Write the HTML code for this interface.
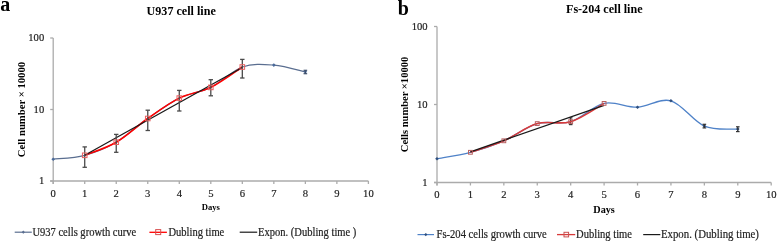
<!DOCTYPE html><html><head><meta charset="utf-8"><style>html,body{margin:0;padding:0;background:#fff;}svg{display:block;filter:blur(0.3px);}text{font-family:"Liberation Serif",serif;}.r{stroke:#222;stroke-width:0.18px;}</style></head><body>
<svg width="777" height="241" viewBox="0 0 777 241">
<rect width="777" height="241" fill="#fff"/>
<text x="0.3" y="10.8" font-size="20" font-weight="bold" fill="#000">a</text>
<text x="397.8" y="14.6" font-size="20" font-weight="bold" fill="#000">b</text>
<text x="181.2" y="15.2" font-size="12.1" font-weight="bold" text-anchor="middle" fill="#000">U937 cell line</text>
<text x="604.3" y="13.1" font-size="12.1" font-weight="bold" text-anchor="middle" fill="#000">Fs-204 cell line</text>
<line x1="53.20" y1="38.00" x2="53.20" y2="184.00" stroke="#ababab" stroke-width="1.3"/>
<line x1="50.20" y1="181.00" x2="53.20" y2="181.00" stroke="#ababab" stroke-width="1.3"/>
<text x="44.20" y="184.30" font-size="10.6" text-anchor="end" fill="#222" class="r">1</text>
<line x1="50.20" y1="109.50" x2="53.20" y2="109.50" stroke="#ababab" stroke-width="1.3"/>
<text x="44.20" y="112.80" font-size="10.6" text-anchor="end" fill="#222" class="r">10</text>
<line x1="50.20" y1="38.00" x2="53.20" y2="38.00" stroke="#ababab" stroke-width="1.3"/>
<text x="44.20" y="41.30" font-size="10.6" text-anchor="end" fill="#222" class="r">100</text>
<line x1="50.20" y1="181.00" x2="368.40" y2="181.00" stroke="#ababab" stroke-width="1.3"/>
<line x1="53.20" y1="181.00" x2="53.20" y2="184.00" stroke="#ababab" stroke-width="1.3"/>
<text x="53.20" y="196.50" font-size="10.6" text-anchor="middle" fill="#222" class="r">0</text>
<line x1="84.72" y1="181.00" x2="84.72" y2="184.00" stroke="#ababab" stroke-width="1.3"/>
<text x="84.72" y="196.50" font-size="10.6" text-anchor="middle" fill="#222" class="r">1</text>
<line x1="116.24" y1="181.00" x2="116.24" y2="184.00" stroke="#ababab" stroke-width="1.3"/>
<text x="116.24" y="196.50" font-size="10.6" text-anchor="middle" fill="#222" class="r">2</text>
<line x1="147.76" y1="181.00" x2="147.76" y2="184.00" stroke="#ababab" stroke-width="1.3"/>
<text x="147.76" y="196.50" font-size="10.6" text-anchor="middle" fill="#222" class="r">3</text>
<line x1="179.28" y1="181.00" x2="179.28" y2="184.00" stroke="#ababab" stroke-width="1.3"/>
<text x="179.28" y="196.50" font-size="10.6" text-anchor="middle" fill="#222" class="r">4</text>
<line x1="210.80" y1="181.00" x2="210.80" y2="184.00" stroke="#ababab" stroke-width="1.3"/>
<text x="210.80" y="196.50" font-size="10.6" text-anchor="middle" fill="#222" class="r">5</text>
<line x1="242.32" y1="181.00" x2="242.32" y2="184.00" stroke="#ababab" stroke-width="1.3"/>
<text x="242.32" y="196.50" font-size="10.6" text-anchor="middle" fill="#222" class="r">6</text>
<line x1="273.84" y1="181.00" x2="273.84" y2="184.00" stroke="#ababab" stroke-width="1.3"/>
<text x="273.84" y="196.50" font-size="10.6" text-anchor="middle" fill="#222" class="r">7</text>
<line x1="305.36" y1="181.00" x2="305.36" y2="184.00" stroke="#ababab" stroke-width="1.3"/>
<text x="305.36" y="196.50" font-size="10.6" text-anchor="middle" fill="#222" class="r">8</text>
<line x1="336.88" y1="181.00" x2="336.88" y2="184.00" stroke="#ababab" stroke-width="1.3"/>
<text x="336.88" y="196.50" font-size="10.6" text-anchor="middle" fill="#222" class="r">9</text>
<line x1="368.40" y1="181.00" x2="368.40" y2="184.00" stroke="#ababab" stroke-width="1.3"/>
<text x="368.40" y="196.50" font-size="10.6" text-anchor="middle" fill="#222" class="r">10</text>
<text x="210.80" y="209.90" font-size="8.6" font-weight="bold" text-anchor="middle" fill="#000">Days</text>
<text transform="translate(24.60,109.50) rotate(-90)" font-size="10.7" font-weight="bold" text-anchor="middle" fill="#000">Cell number × 10000</text>
<line x1="437.00" y1="26.50" x2="437.00" y2="185.50" stroke="#ababab" stroke-width="1.3"/>
<line x1="434.00" y1="182.50" x2="437.00" y2="182.50" stroke="#ababab" stroke-width="1.3"/>
<text x="427.60" y="185.80" font-size="10.6" text-anchor="end" fill="#222" class="r">1</text>
<line x1="434.00" y1="104.50" x2="437.00" y2="104.50" stroke="#ababab" stroke-width="1.3"/>
<text x="427.60" y="107.80" font-size="10.6" text-anchor="end" fill="#222" class="r">10</text>
<line x1="434.00" y1="26.50" x2="437.00" y2="26.50" stroke="#ababab" stroke-width="1.3"/>
<text x="427.60" y="29.80" font-size="10.6" text-anchor="end" fill="#222" class="r">100</text>
<line x1="434.00" y1="182.50" x2="771.20" y2="182.50" stroke="#ababab" stroke-width="1.3"/>
<line x1="437.00" y1="182.50" x2="437.00" y2="185.50" stroke="#ababab" stroke-width="1.3"/>
<text x="437.00" y="198.20" font-size="10.6" text-anchor="middle" fill="#222" class="r">0</text>
<line x1="470.42" y1="182.50" x2="470.42" y2="185.50" stroke="#ababab" stroke-width="1.3"/>
<text x="470.42" y="198.20" font-size="10.6" text-anchor="middle" fill="#222" class="r">1</text>
<line x1="503.84" y1="182.50" x2="503.84" y2="185.50" stroke="#ababab" stroke-width="1.3"/>
<text x="503.84" y="198.20" font-size="10.6" text-anchor="middle" fill="#222" class="r">2</text>
<line x1="537.26" y1="182.50" x2="537.26" y2="185.50" stroke="#ababab" stroke-width="1.3"/>
<text x="537.26" y="198.20" font-size="10.6" text-anchor="middle" fill="#222" class="r">3</text>
<line x1="570.68" y1="182.50" x2="570.68" y2="185.50" stroke="#ababab" stroke-width="1.3"/>
<text x="570.68" y="198.20" font-size="10.6" text-anchor="middle" fill="#222" class="r">4</text>
<line x1="604.10" y1="182.50" x2="604.10" y2="185.50" stroke="#ababab" stroke-width="1.3"/>
<text x="604.10" y="198.20" font-size="10.6" text-anchor="middle" fill="#222" class="r">5</text>
<line x1="637.52" y1="182.50" x2="637.52" y2="185.50" stroke="#ababab" stroke-width="1.3"/>
<text x="637.52" y="198.20" font-size="10.6" text-anchor="middle" fill="#222" class="r">6</text>
<line x1="670.94" y1="182.50" x2="670.94" y2="185.50" stroke="#ababab" stroke-width="1.3"/>
<text x="670.94" y="198.20" font-size="10.6" text-anchor="middle" fill="#222" class="r">7</text>
<line x1="704.36" y1="182.50" x2="704.36" y2="185.50" stroke="#ababab" stroke-width="1.3"/>
<text x="704.36" y="198.20" font-size="10.6" text-anchor="middle" fill="#222" class="r">8</text>
<line x1="737.78" y1="182.50" x2="737.78" y2="185.50" stroke="#ababab" stroke-width="1.3"/>
<text x="737.78" y="198.20" font-size="10.6" text-anchor="middle" fill="#222" class="r">9</text>
<line x1="771.20" y1="182.50" x2="771.20" y2="185.50" stroke="#ababab" stroke-width="1.3"/>
<text x="771.20" y="198.20" font-size="10.6" text-anchor="middle" fill="#222" class="r">10</text>
<text x="604.10" y="212.70" font-size="10.2" font-weight="bold" text-anchor="middle" fill="#000">Days</text>
<text transform="translate(407.90,104.50) rotate(-90)" font-size="10.55" font-weight="bold" text-anchor="middle" fill="#000">Cells number ×10000</text>
<path d="M53.20,159.20 C58.45,158.55 74.21,158.13 84.72,155.30 C95.23,152.47 105.73,148.33 116.24,142.20 C126.75,136.07 137.25,125.85 147.76,118.50 C158.27,111.15 168.77,103.28 179.28,98.10 C189.79,92.92 200.29,92.58 210.80,87.40 C221.31,82.22 231.81,70.72 242.32,67.00 C252.83,63.28 263.33,64.30 273.84,65.10 C284.35,65.90 300.11,70.68 305.36,71.80" fill="none" stroke="#5a6e90" stroke-width="1.2"/>
<path d="M53.20,157.40 L55.00,159.20 L53.20,161.00 L51.40,159.20 Z" fill="#4a6a9a"/>
<path d="M273.84,63.30 L275.64,65.10 L273.84,66.90 L272.04,65.10 Z" fill="#4a6a9a"/>
<path d="M305.36,70.00 L307.16,71.80 L305.36,73.60 L303.56,71.80 Z" fill="#4a6a9a"/>
<line x1="305.36" y1="70.30" x2="305.36" y2="73.70" stroke="#3d4e6a" stroke-width="1.2"/><line x1="303.56" y1="70.30" x2="307.16" y2="70.30" stroke="#3d4e6a" stroke-width="1.2"/><line x1="303.56" y1="73.70" x2="307.16" y2="73.70" stroke="#3d4e6a" stroke-width="1.2"/>
<path d="M84.72,155.30 C89.97,153.12 105.73,148.33 116.24,142.20 C126.75,136.07 137.25,125.85 147.76,118.50 C158.27,111.15 168.77,103.28 179.28,98.10 C189.79,92.92 200.29,92.58 210.80,87.40 C221.31,82.22 237.07,70.40 242.32,67.00" fill="none" stroke="#ff0000" stroke-width="1.6"/>
<line x1="84.72" y1="155.3" x2="242.32" y2="67.5" stroke="#1a1a1a" stroke-width="1.3"/>
<line x1="84.72" y1="146.90" x2="84.72" y2="167.30" stroke="#4a4a4a" stroke-width="1.3"/><line x1="82.52" y1="146.90" x2="86.92" y2="146.90" stroke="#4a4a4a" stroke-width="1.3"/><line x1="82.52" y1="167.30" x2="86.92" y2="167.30" stroke="#4a4a4a" stroke-width="1.3"/>
<line x1="116.24" y1="134.40" x2="116.24" y2="152.30" stroke="#4a4a4a" stroke-width="1.3"/><line x1="114.04" y1="134.40" x2="118.44" y2="134.40" stroke="#4a4a4a" stroke-width="1.3"/><line x1="114.04" y1="152.30" x2="118.44" y2="152.30" stroke="#4a4a4a" stroke-width="1.3"/>
<line x1="147.76" y1="110.20" x2="147.76" y2="130.50" stroke="#4a4a4a" stroke-width="1.3"/><line x1="145.56" y1="110.20" x2="149.96" y2="110.20" stroke="#4a4a4a" stroke-width="1.3"/><line x1="145.56" y1="130.50" x2="149.96" y2="130.50" stroke="#4a4a4a" stroke-width="1.3"/>
<line x1="179.28" y1="90.40" x2="179.28" y2="111.00" stroke="#4a4a4a" stroke-width="1.3"/><line x1="177.08" y1="90.40" x2="181.48" y2="90.40" stroke="#4a4a4a" stroke-width="1.3"/><line x1="177.08" y1="111.00" x2="181.48" y2="111.00" stroke="#4a4a4a" stroke-width="1.3"/>
<line x1="210.80" y1="79.70" x2="210.80" y2="95.80" stroke="#4a4a4a" stroke-width="1.3"/><line x1="208.60" y1="79.70" x2="213.00" y2="79.70" stroke="#4a4a4a" stroke-width="1.3"/><line x1="208.60" y1="95.80" x2="213.00" y2="95.80" stroke="#4a4a4a" stroke-width="1.3"/>
<line x1="242.32" y1="59.40" x2="242.32" y2="78.00" stroke="#4a4a4a" stroke-width="1.3"/><line x1="240.12" y1="59.40" x2="244.52" y2="59.40" stroke="#4a4a4a" stroke-width="1.3"/><line x1="240.12" y1="78.00" x2="244.52" y2="78.00" stroke="#4a4a4a" stroke-width="1.3"/>
<rect x="82.42" y="153.00" width="4.60" height="4.60" fill="none" stroke="#e86060" stroke-width="1"/>
<rect x="113.94" y="139.90" width="4.60" height="4.60" fill="none" stroke="#e86060" stroke-width="1"/>
<rect x="145.46" y="116.20" width="4.60" height="4.60" fill="none" stroke="#e86060" stroke-width="1"/>
<rect x="176.98" y="95.80" width="4.60" height="4.60" fill="none" stroke="#e86060" stroke-width="1"/>
<rect x="208.50" y="85.10" width="4.60" height="4.60" fill="none" stroke="#e86060" stroke-width="1"/>
<rect x="240.02" y="64.70" width="4.60" height="4.60" fill="none" stroke="#e86060" stroke-width="1"/>
<path d="M437.00,158.70 C442.57,157.63 459.28,155.28 470.42,152.30 C481.56,149.32 492.70,145.58 503.84,140.80 C514.98,136.02 526.12,126.78 537.26,123.60 C548.40,120.42 559.54,125.07 570.68,121.70 C581.82,118.33 592.96,105.82 604.10,103.40 C615.24,100.98 626.38,107.63 637.52,107.20 C648.66,106.77 659.80,97.65 670.94,100.80 C682.08,103.95 693.22,121.38 704.36,126.10 C715.50,130.82 732.21,128.60 737.78,129.10" fill="none" stroke="#4f82c8" stroke-width="1.3"/>
<path d="M437.00,156.90 L438.80,158.70 L437.00,160.50 L435.20,158.70 Z" fill="#2f4f7f"/>
<path d="M637.52,105.40 L639.32,107.20 L637.52,109.00 L635.72,107.20 Z" fill="#2f4f7f"/>
<path d="M670.94,99.00 L672.74,100.80 L670.94,102.60 L669.14,100.80 Z" fill="#2f4f7f"/>
<path d="M704.36,124.30 L706.16,126.10 L704.36,127.90 L702.56,126.10 Z" fill="#2f4f7f"/>
<path d="M737.78,127.30 L739.58,129.10 L737.78,130.90 L735.98,129.10 Z" fill="#2f4f7f"/>
<line x1="704.36" y1="124.30" x2="704.36" y2="127.90" stroke="#333" stroke-width="1.2"/><line x1="702.56" y1="124.30" x2="706.16" y2="124.30" stroke="#333" stroke-width="1.2"/><line x1="702.56" y1="127.90" x2="706.16" y2="127.90" stroke="#333" stroke-width="1.2"/>
<line x1="737.78" y1="126.80" x2="737.78" y2="131.60" stroke="#333" stroke-width="1.2"/><line x1="735.98" y1="126.80" x2="739.58" y2="126.80" stroke="#333" stroke-width="1.2"/><line x1="735.98" y1="131.60" x2="739.58" y2="131.60" stroke="#333" stroke-width="1.2"/>
<line x1="570.68" y1="117.80" x2="570.68" y2="124.60" stroke="#333" stroke-width="1.2"/><line x1="568.88" y1="117.80" x2="572.48" y2="117.80" stroke="#333" stroke-width="1.2"/><line x1="568.88" y1="124.60" x2="572.48" y2="124.60" stroke="#333" stroke-width="1.2"/>
<path d="M470.42,152.30 C475.99,150.38 492.70,145.58 503.84,140.80 C514.98,136.02 526.12,126.78 537.26,123.60 C548.40,120.42 559.54,125.07 570.68,121.70 C581.82,118.33 598.53,106.45 604.10,103.40" fill="none" stroke="#d83a3a" stroke-width="1.6"/>
<line x1="470.42" y1="151.8" x2="604.10" y2="105.4" stroke="#1a1a1a" stroke-width="1.3"/>
<rect x="468.52" y="150.40" width="3.80" height="3.80" fill="none" stroke="#b86060" stroke-width="1"/>
<rect x="501.94" y="138.90" width="3.80" height="3.80" fill="none" stroke="#b86060" stroke-width="1"/>
<rect x="535.36" y="121.70" width="3.80" height="3.80" fill="none" stroke="#b86060" stroke-width="1"/>
<rect x="568.78" y="119.80" width="3.80" height="3.80" fill="none" stroke="#b86060" stroke-width="1"/>
<rect x="602.20" y="101.50" width="3.80" height="3.80" fill="none" stroke="#b86060" stroke-width="1"/>
<line x1="14.70" y1="232.20" x2="31.80" y2="232.20" stroke="#5a6e90" stroke-width="1.2"/>
<path d="M23.30,230.60 L24.90,232.20 L23.30,233.80 L21.70,232.20 Z" fill="#5a6e90"/>
<text transform="translate(32.40,235.90) scale(1,1.09)" font-size="10.55" fill="#222" class="r">U937 cells growth curve</text>
<line x1="149.40" y1="232.30" x2="166.90" y2="232.30" stroke="#ff0000" stroke-width="1.3"/>
<rect x="155.70" y="229.60" width="5.00" height="5.00" fill="none" stroke="#d85050" stroke-width="1"/>
<text transform="translate(168.40,235.90) scale(1,1.09)" font-size="10.55" fill="#222" class="r">Dubling time</text>
<line x1="239.70" y1="232.20" x2="257.20" y2="232.20" stroke="#1a1a1a" stroke-width="1.2"/>
<text transform="translate(258.10,235.90) scale(1,1.09)" font-size="10.55" fill="#222" class="r">Expon. (Dubling time )</text>
<line x1="417.50" y1="234.60" x2="434.00" y2="234.60" stroke="#4f82c8" stroke-width="1.2"/>
<path d="M425.80,233.00 L427.40,234.60 L425.80,236.20 L424.20,234.60 Z" fill="#2f4f7f"/>
<text transform="translate(436.50,238.00) scale(1,1.09)" font-size="10.6" fill="#222" class="r">Fs-204 cells growth curve</text>
<line x1="557.00" y1="234.60" x2="575.20" y2="234.60" stroke="#d83a3a" stroke-width="1.3"/>
<rect x="564.00" y="232.30" width="4.60" height="4.60" fill="none" stroke="#c85050" stroke-width="1"/>
<text transform="translate(576.10,238.00) scale(1,1.09)" font-size="10.55" fill="#222" class="r">Dubling time</text>
<line x1="643.20" y1="234.60" x2="660.30" y2="234.60" stroke="#1a1a1a" stroke-width="1.2"/>
<text transform="translate(661.00,238.00) scale(1,1.09)" font-size="10.8" fill="#222" class="r">Expon. (Dubling time)</text>
</svg></body></html>
